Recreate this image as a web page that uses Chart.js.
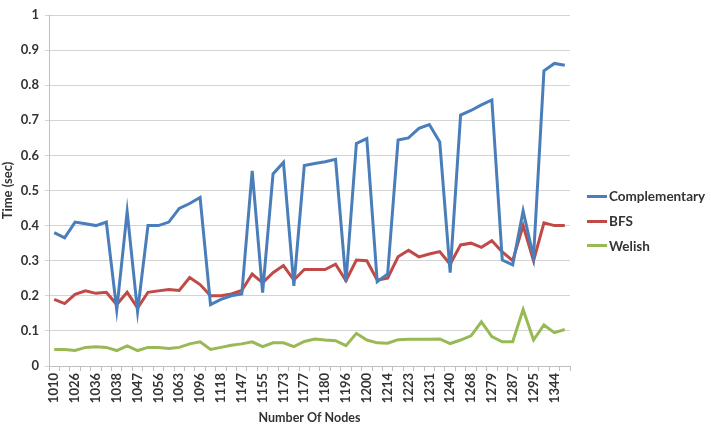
<!DOCTYPE html>
<html>
<head>
<meta charset="utf-8">
<script src="https://cdn.jsdelivr.net/npm/chart.js@4.4.1/dist/chart.umd.min.js"></script>
<style>
  body { margin: 0; background: #fff; }
  #wrap { position: relative; width: 711px; height: 442px; }
  #legend { position: absolute; left: 587px; top: 184px; font-family: Lato, 'Liberation Sans', sans-serif; }
  .item { display: flex; align-items: center; height: 24.7px; font-weight: bold; font-size: 13.5px; color: #333; }
  .swatch { width: 20px; height: 3px; margin-right: 2px; }
</style>
</head>
<body>
<div id="wrap">
  <canvas id="chart"></canvas>
  <div id="legend"></div>
</div>
<script>
// node counts (only every other one is printed on the axis)
const nodes = [
  '1010', '1020', '1026', '1031', '1036', '1037', '1038', '1040', '1047', '1050',
  '1056', '1060', '1063', '1075', '1096', '1110', '1118', '1130', '1147', '1150',
  '1155', '1160', '1173', '1175', '1177', '1178', '1180', '1190', '1196', '1198',
  '1200', '1210', '1214', '1220', '1223', '1228', '1231', '1237', '1240', '1250',
  '1268', '1272', '1279', '1283', '1287', '1290', '1295', '1320', '1344', '1348'
];

const complementary = [
  0.38, 0.365, 0.41, 0.405, 0.40, 0.41, 0.16, 0.44, 0.155, 0.40,
  0.40, 0.41, 0.449, 0.463, 0.48, 0.175, 0.19, 0.20, 0.205, 0.556,
  0.209, 0.547, 0.58, 0.228, 0.571, 0.577, 0.582, 0.589, 0.24, 0.634,
  0.648, 0.24, 0.262, 0.644, 0.65, 0.677, 0.688, 0.638, 0.266, 0.715,
  0.728, 0.744, 0.758, 0.302, 0.288, 0.442, 0.31, 0.841, 0.862, 0.857
];

const bfs = [
  0.19, 0.178, 0.204, 0.214, 0.207, 0.21, 0.175, 0.21, 0.165, 0.21,
  0.214, 0.218, 0.215, 0.252, 0.232, 0.20, 0.20, 0.205, 0.215, 0.262,
  0.237, 0.266, 0.286, 0.245, 0.275, 0.275, 0.275, 0.29, 0.243, 0.302,
  0.30, 0.245, 0.25, 0.311, 0.33, 0.311, 0.319, 0.326, 0.29, 0.345,
  0.35, 0.338, 0.357, 0.325, 0.30, 0.40, 0.30, 0.408, 0.40, 0.40
];

const welish = [
  0.047, 0.047, 0.044, 0.053, 0.055, 0.053, 0.044, 0.057, 0.044, 0.053,
  0.053, 0.05, 0.053, 0.063, 0.069, 0.047, 0.053, 0.059, 0.063, 0.069,
  0.055, 0.066, 0.066, 0.055, 0.07, 0.077, 0.074, 0.072, 0.058, 0.093,
  0.074, 0.066, 0.065, 0.075, 0.076, 0.076, 0.076, 0.077, 0.064, 0.074,
  0.086, 0.126, 0.084, 0.069, 0.069, 0.161, 0.074, 0.117, 0.095, 0.104
];

const seriesNames = ['Complementary', 'BFS', 'Welish'];
const colors = ['#4a7ebb', '#be4b48', '#98b954'];

const font = 'Lato, "Liberation Sans", sans-serif';
const txt = '#333';

const datasets = [complementary, bfs, welish].map((d, i) => ({
  label: seriesNames[i],
  data: d,
  borderColor: colors[i],
  backgroundColor: colors[i],
  borderWidth: 3,
  pointRadius: 0,
  tension: 0
}));

new Chart(document.getElementById('chart'), {
  type: 'line',
  data: { labels: nodes, datasets },
  options: {
    responsive: true,
    maintainAspectRatio: false,
    animation: false,
    layout: { padding: { top: 15, right: 141, bottom: 17, left: 0 } },
    plugins: {
      legend: { display: false },
      tooltip: { enabled: false }
    },
    scales: {
      x: {
        offset: true,
        afterFit: s => { s.height = 59; },
        grid: { display: true, drawOnChartArea: false, offset: true, tickLength: 5, color: '#bfbfbf' },
        border: { color: '#bfbfbf' },
        ticks: {
          autoSkip: false,
          minRotation: 90,
          maxRotation: 90,
          padding: 2,
          color: txt,
          font: { family: font, size: 13, weight: 'bold' },
          callback: (v, i) => i % 2 === 0 ? nodes[i] : ''
        },
        title: {
          display: true,
          text: 'Number Of Nodes',
          color: txt,
          font: { family: font, size: 12.5, weight: 'bold' },
          padding: { top: 2, bottom: 0 }
        }
      },
      y: {
        min: 0,
        max: 1,
        afterFit: s => { s.width = 49; },
        grid: { color: '#d4d4d4', tickLength: 4 },
        border: { color: '#bfbfbf' },
        ticks: {
          stepSize: 0.1,
          padding: 6,
          color: txt,
          font: { family: font, size: 13, weight: 'bold' },
          callback: v => v === 0 ? '0' : (v === 1 ? '1' : v.toFixed(1))
        },
        title: {
          display: true,
          text: 'Time (sec)',
          color: txt,
          font: { family: font, size: 13, weight: 'bold' },
          padding: { top: 0, bottom: 0 }
        }
      }
    }
  }
});

const legend = document.getElementById('legend');
seriesNames.forEach((name, i) => {
  const row = document.createElement('div');
  row.className = 'item';
  row.innerHTML = `<span class="swatch" style="background:${colors[i]}"></span>${name}`;
  legend.appendChild(row);
});
</script>
</body>
</html>
